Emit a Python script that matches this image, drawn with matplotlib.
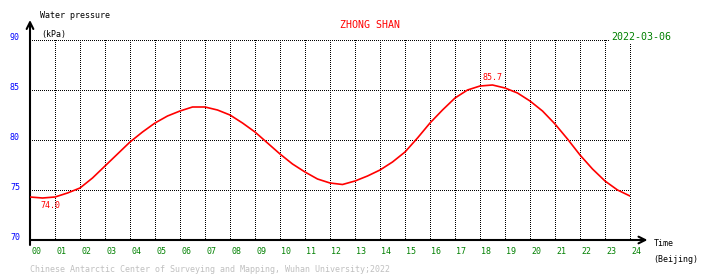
import matplotlib
matplotlib.use("Agg")
import matplotlib.pyplot as plt
import numpy as np

W, H = 710, 278

hours = [0, 0.5, 1, 1.5, 2, 2.5, 3, 3.5, 4, 4.5, 5, 5.5, 6, 6.5, 7, 7.5, 8, 8.5,
         9, 9.5, 10, 10.5, 11, 11.5, 12, 12.5, 13, 13.5, 14, 14.5, 15, 15.5, 16,
         16.5, 17, 17.5, 18, 18.5, 19, 19.5, 20, 20.5, 21, 21.5, 22, 22.5, 23,
         23.5, 24]
pressure = [74.3, 74.2, 74.3, 74.7, 75.2, 76.2, 77.4, 78.6, 79.8, 80.8, 81.7,
            82.4, 82.9, 83.3, 83.3, 83.0, 82.5, 81.7, 80.8, 79.7, 78.6, 77.6,
            76.8, 76.1, 75.7, 75.55, 75.9, 76.4, 77.0, 77.8, 78.8, 80.2, 81.7,
            83.0, 84.2, 85.0, 85.4, 85.5, 85.2, 84.7, 83.9, 82.9, 81.6, 80.1,
            78.5, 77.1, 75.9, 75.0, 74.4]
min_label = ("74.0", 0.8, 74.0)
max_label = ("85.7", 18.4, 85.7)
yticks = [70, 75, 80, 85, 90]
xticks = list(range(25))
xticklabels = ["%02d" % h for h in xticks]

fig = plt.figure(figsize=(W / 100, H / 100), dpi=100)
fig.patch.set_facecolor("white")

def fx(x):
    return x / W

def fy(y):
    return 1 - y / H

ax = fig.add_axes([fx(30), fy(240), fx(630) - fx(30), fy(40) - fy(240)])
ax.set_xlim(0, 24)
ax.set_ylim(70, 90)
for s in ax.spines.values():
    s.set_visible(False)
ax.set_xticks([])
ax.set_yticks([])

mono = "DejaVu Sans Mono"

# dotted grid: one pixel on, one pixel off (600 px wide, 200 px tall)
gx = np.arange(0, 24.001, 24 / 300)
gy = np.arange(70, 90.001, 20 / 100)
for v in yticks[1:]:
    ax.plot(gx, np.full_like(gx, v), ls="none", marker="s", ms=0.72, mew=0,
            color="black", zorder=1)
for h in xticks[1:]:
    ax.plot(np.full_like(gy, h), gy, ls="none", marker="s", ms=0.72, mew=0,
            color="black", zorder=1)

# axes with arrows
ax.annotate("", xy=(0, 92), xytext=(0, 69.5), annotation_clip=False,
            arrowprops=dict(arrowstyle="->", color="black", lw=1.5,
                            shrinkA=0, shrinkB=0, mutation_scale=12))
ax.annotate("", xy=(24.7, 70), xytext=(0, 70), annotation_clip=False,
            arrowprops=dict(arrowstyle="->", color="black", lw=1.5,
                            shrinkA=0, shrinkB=0, mutation_scale=12))

# data
ax.plot(hours, pressure, color="#ff0000", lw=1.2, zorder=3)
ax.text(min_label[1] - 0.4, min_label[2] - 0.1, min_label[0], color="#ff0000",
        fontsize=6, family=mono, ha="left", va="top")
ax.text(max_label[1] - 0.3, max_label[2] + 0.05, max_label[0], color="#ff0000",
        fontsize=6, family=mono, ha="left", va="bottom")

# tick labels
for v in yticks:
    ax.text(-0.4, v + 0.2, str(v), color="#0000ff", fontsize=6, family=mono,
            ha="right", va="center")
for h, lab in zip(xticks, xticklabels):
    ax.text(h + 0.05, 68.8, lab, color="#008000", fontsize=6, family=mono,
            ha="left", va="center")

# texts
fig.text(fx(40), fy(16), "Water pressure", fontsize=6, family=mono,
         color="black", ha="left", va="center")
fig.text(fx(41), fy(34), "(kPa)", fontsize=6, family=mono,
         color="black", ha="left", va="center")
fig.text(fx(370), fy(25), "ZHONG SHAN", fontsize=7.2, family=mono,
         color="#ff0000", ha="center", va="center")
fig.text(fx(611), fy(37), "2022-03-06", fontsize=7.2, family=mono,
         color="#008000", ha="left", va="center",
         bbox=dict(facecolor="white", edgecolor="none", pad=0.5))
fig.text(fx(654), fy(244), "Time", fontsize=6, family=mono,
         color="black", ha="left", va="center")
fig.text(fx(653), fy(260), "(Beijing)", fontsize=6, family=mono,
         color="black", ha="left", va="center")
fig.text(fx(30), fy(270),
         "Chinese Antarctic Center of Surveying and Mapping, Wuhan University;2022",
         fontsize=6, family=mono, color="#c0c0c0", ha="left", va="center")

fig.savefig("out.png", dpi=100, facecolor="white")
